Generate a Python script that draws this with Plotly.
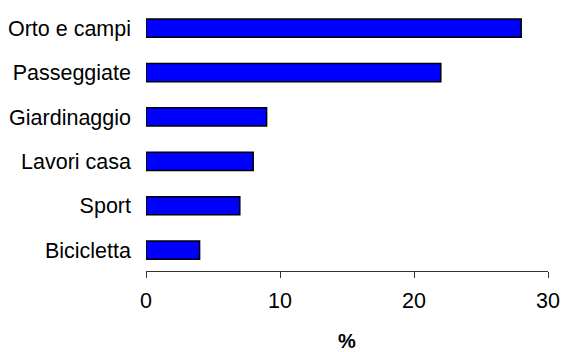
import plotly.graph_objects as go

categories = ["Bicicletta", "Sport", "Lavori casa", "Giardinaggio", "Passeggiate", "Orto e campi"]
values = [4, 7, 8, 9, 22, 28]
x_ticks = [0, 10, 20, 30]
x_title = "%"

fig = go.Figure(go.Bar(
    y=categories, x=values, orientation="h",
    width=0.41,
    marker=dict(color="#0000FF", line=dict(color="#000000", width=1.5)),
))

fig.update_layout(
    width=561, height=352,
    margin=dict(l=146, r=13, t=6, b=81, autoexpand=False),
    paper_bgcolor="white", plot_bgcolor="white",
    font=dict(family="Liberation Sans, Arial, sans-serif", size=21.5, color="black"),
    showlegend=False,
)
fig.update_xaxes(
    range=[0, 30], tickvals=x_ticks, ticks="outside", ticklen=6, tickwidth=1,
    tickcolor="#333333", showline=True, linecolor="#333333", linewidth=1,
    showgrid=False, zeroline=False, ticklabelstandoff=4,
    title=dict(text="<b>" + x_title + "</b>", standoff=28, font=dict(size=20)),
    automargin=False,
)
fig.update_yaxes(
    categoryorder="array", categoryarray=categories,
    range=[-0.47, 5.5], showline=False, showgrid=False, zeroline=False,
    ticks="", ticklabelstandoff=14, automargin=False,
)

fig.write_html("out.html")
